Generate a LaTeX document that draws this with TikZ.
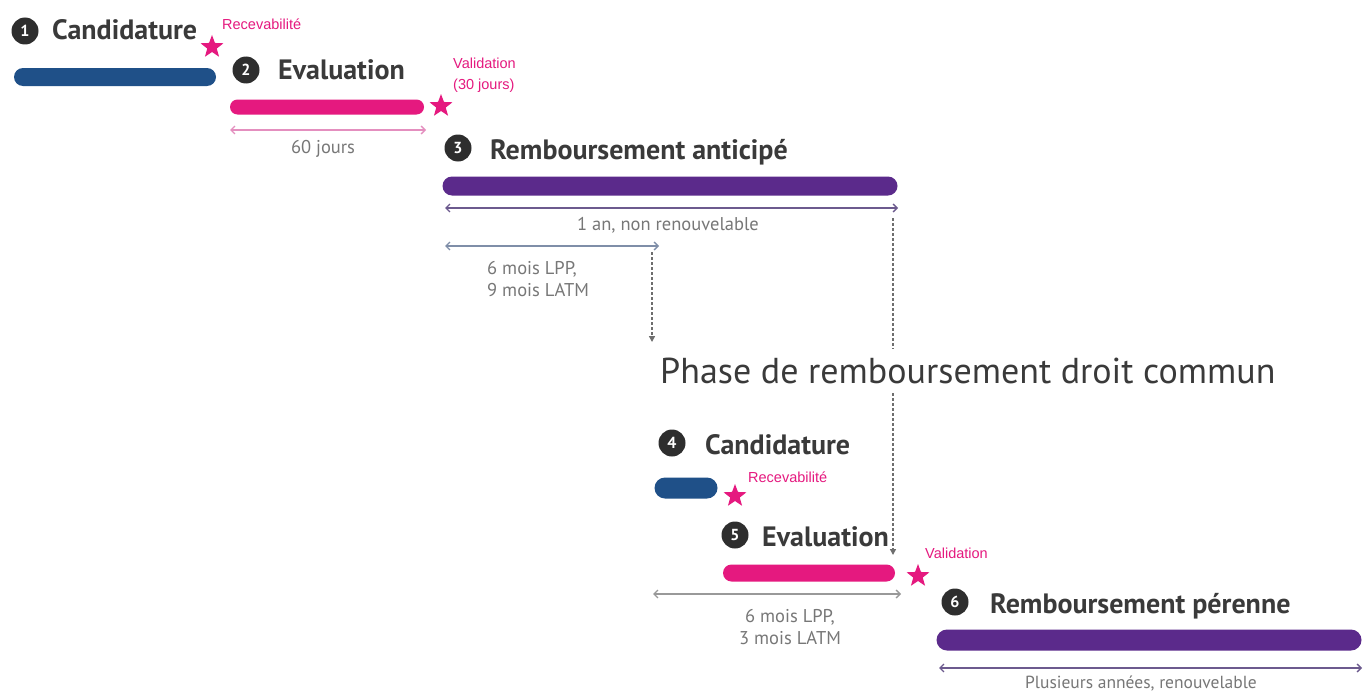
\documentclass[tikz,border=0pt]{standalone}
\usepackage{fontspec}
\setmainfont{PT Sans}
\newfontfamily\arialf{Liberation Sans}
\usetikzlibrary{shapes.geometric,shapes.misc,arrows.meta}
\definecolor{numgrey}{HTML}{2E2E2E}
\definecolor{headgrey}{HTML}{3A3A3A}
\definecolor{bluec}{HTML}{1F5088}
\definecolor{pinkc}{HTML}{E5197F}
\definecolor{purplec}{HTML}{5B2A8B}
\definecolor{greyc}{HTML}{777777}
\definecolor{dimpink}{HTML}{E48FBF}
\definecolor{dimpurple}{HTML}{6C5A8E}
\definecolor{dimblue}{HTML}{7F8EA8}
\definecolor{dimgrey}{HTML}{999999}
\definecolor{dashgrey}{HTML}{6E6E6E}
\begin{document}
\begin{tikzpicture}[x=1pt,y=-1pt,
  num/.style={circle, fill=numgrey, text=white, font=\bfseries\fontsize{16}{16}\selectfont, minimum size=27pt, inner sep=0pt},
  head/.style={anchor=base west, text=headgrey, font=\bfseries\fontsize{28}{28}\selectfont, inner sep=0pt},
  bar/.style={rounded rectangle, inner sep=0pt, draw=none},
  mstar/.style={star, star points=5, star point ratio=2.4, fill=pinkc, inner sep=0pt, minimum size=24pt},
  pinklab/.style={anchor=base west, text=pinkc, font=\arialf\fontsize{14.5}{21}\selectfont, inner sep=0pt, align=left},
  greylab/.style={anchor=base, text=greyc, font=\fontsize{18.5}{21.5}\selectfont, inner sep=0pt},
  dim/.style={{Straight Barb[length=4pt,width=8pt]}-{Straight Barb[length=4pt,width=8pt]}, line width=1.3pt},
  dasharrow/.style={densely dashed, line width=1.4pt, color=dashgrey, -{Triangle[length=6pt,width=6pt]}}
]
\useasboundingbox[fill=white] (0,0) rectangle (1364,693);

% --- 1 Candidature
\node[num] (n1) at (25,31) {1};
\node[head] (h1) at (52,40) {Candidature};
\node[bar, fill=bluec, minimum width=202pt, minimum height=18pt] (b1) at (115,77) {};
\node[mstar] (s1) at (212,47) {};
\node[pinklab] (l1) at (222,30) {Recevabilité};

% --- 2 Evaluation
\node[num] (n2) at (246,70) {2};
\node[head] (h2) at (278,79) {Evaluation};
\node[bar, fill=pinkc, minimum width=194pt, minimum height=15pt] (b2) at (327,107) {};
\node[mstar] (s2) at (441,106) {};
\node[pinklab] (l2) at (453,89) {Validation\\(30 jours)};
\coordinate (a2l) at (230,130);
\coordinate (a2r) at (426,130);
\draw[dim, dimpink] (a2l) -- (a2r);
\node[greylab] (t2) at (323,153) {60 jours};

% --- 3 Remboursement anticipe
\node[num] (n3) at (458,148) {3};
\node[head] (h3) at (490,159) {Remboursement anticipé};
\node[bar, fill=purplec, minimum width=455pt, minimum height=19pt] (b3) at (670,186) {};
\coordinate (a3l) at (445,208);
\coordinate (a3r) at (898,208);
\draw[dim, dimpurple] (a3l) -- (a3r);
\node[greylab] (t3) at (668,230) {1 an, non renouvelable};
\coordinate (a4l) at (445,246);
\coordinate (a4r) at (659,246);
\draw[dim, dimblue] (a4l) -- (a4r);
\node[greylab, anchor=base west, align=left] (t4) at (487,296) {6 mois LPP,\\9 mois LATM};

% --- dashed arrows
\coordinate (d1s) at (652,252);
\coordinate (d1e) at (652,342);
\draw[dasharrow] (d1s) -- (d1e);
\coordinate (d2s) at (893,218);
\coordinate (d2e) at (893,555);
\draw[dasharrow] (d2s) -- (d2e);

% --- Phase title
\node[anchor=base west, text=headgrey, font=\fontsize{36}{36}\selectfont, fill=white, inner xsep=0pt, inner ysep=9pt] (ph) at (660,383) {Phase de remboursement droit commun};

% --- 4 Candidature
\node[num] (n4) at (672,443) {4};
\node[head] (h4) at (705,454) {Candidature};
\node[bar, fill=bluec, minimum width=63pt, minimum height=21pt] (b4) at (686,488) {};
\node[mstar] (s4) at (735,496) {};
\node[pinklab] (l4) at (748,482) {Recevabilité};

% --- 5 Evaluation
\node[num] (n5) at (735,535) {5};
\node[head] (h5) at (762,546) {Evaluation};
\node[bar, fill=pinkc, minimum width=172pt, minimum height=17pt] (b5) at (809,573) {};
\node[mstar] (s5) at (918,576) {};
\node[pinklab] (l5) at (925,558) {Validation};
\coordinate (a5l) at (653,594);
\coordinate (a5r) at (901,594);
\draw[dim, dimgrey] (a5l) -- (a5r);
\node[greylab, align=center] (t5) at (790,644) {6 mois LPP,\\3 mois LATM};

% --- 6 Remboursement perenne
\node[num] (n6) at (955,602) {6};
\node[head] (h6) at (990,613) {Remboursement pérenne};
\node[bar, fill=purplec, minimum width=425pt, minimum height=21pt] (b6) at (1149,640) {};
\coordinate (a6l) at (939,668);
\coordinate (a6r) at (1362,668);
\draw[dim, dimpurple] (a6l) -- (a6r);
\node[greylab, font=\fontsize{17.5}{21}\selectfont] (t6) at (1141,688) {Plusieurs années, renouvelable};
\end{tikzpicture}
\end{document}
